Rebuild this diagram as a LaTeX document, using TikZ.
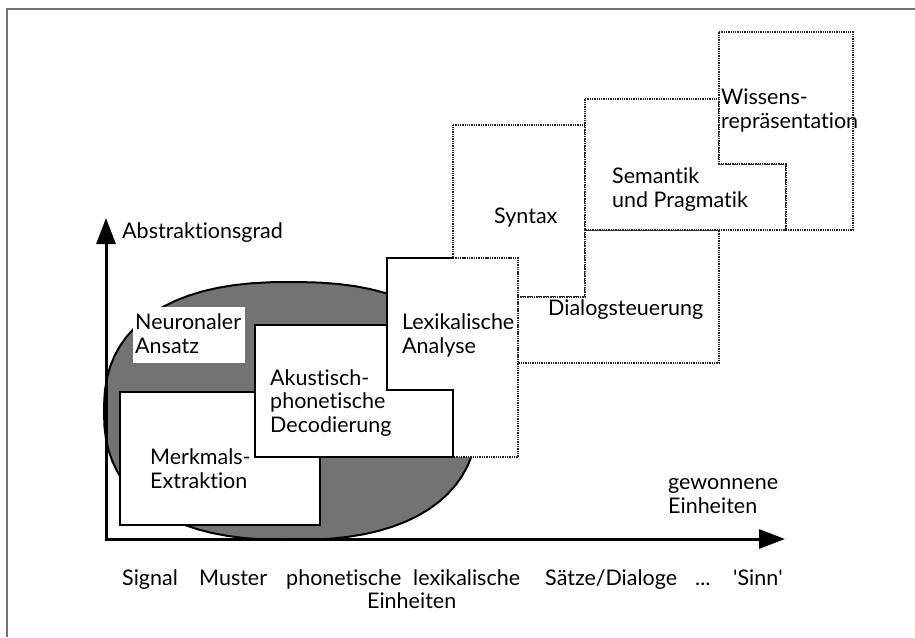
\documentclass[tikz,border=0pt]{standalone}
\usepackage{fontspec}
\setmainfont{Lato}[Ligatures=NoCommon]
\usetikzlibrary{arrows.meta}
\begin{document}
\begin{tikzpicture}[x=1pt,y=-1pt,
  solidbox/.style={fill=white, draw=black, line width=2.4pt, line join=miter},
  solidline/.style={draw=black, line width=2.4pt, line join=miter},
  dotbox/.style={fill=white, draw=black!85, line width=1.7pt, dash pattern=on 1.3pt off 1pt},
  dotline/.style={draw=black!85, line width=1.7pt, dash pattern=on 1.3pt off 1pt},
  lbl/.style={anchor=base west, inner sep=0pt, align=left, font=\fontsize{21.5}{23.5}\selectfont},
  axis/.style={line width=3pt, {Triangle[length=26pt,width=19pt]}-{Triangle[length=26pt,width=19pt]}}
]
\useasboundingbox (0,0) rectangle (915,637);
% frame
\draw[black!55, line width=1.5pt] (7,637) -- (7,9) -- (915,9);
% shaded region
\draw[fill=black!55, line width=2pt] plot[domain=1:361, samples=73, variable=\t]
  ({291+187*sign(cos(\t))*pow(abs(cos(\t)),0.833)}, {411+129*sign(sin(\t))*pow(abs(sin(\t)),0.833)}) -- cycle;
% Neuronaler Ansatz (white patch)
\fill[white] (133,307) rectangle (245,363);
% Merkmals-Extraktion
\draw[solidbox] (120,392) -- (255,392) -- (255,457) -- (320,457) -- (320,525) -- (120,525) -- cycle;
% Akustisch-phonetische Decodierung
\draw[solidbox] (255,325) -- (387,325) -- (387,390) -- (453,390) -- (453,457) -- (255,457) -- cycle;
% Lexikalische Analyse (fill)
\fill[white] (387,258) -- (518,258) -- (518,457) -- (453,457) -- (453,390) -- (387,390) -- cycle;
% Syntax
\draw[dotbox] (453,125) -- (585,125) -- (585,297) -- (518,297) -- (518,258) -- (453,258) -- cycle;
% Dialogsteuerung
\draw[dotbox] (518,297) -- (585,297) -- (585,230) -- (719,230) -- (719,363) -- (518,363) -- cycle;
% Semantik und Pragmatik
\draw[dotbox] (585,99) -- (719,99) -- (719,164) -- (786,164) -- (786,230) -- (585,230) -- cycle;
% Wissensrepraesentation
\draw[dotbox] (719,32) -- (853,32) -- (853,230) -- (786,230) -- (786,164) -- (719,164) -- cycle;
% Lexikalische outline
\draw[dotline] (453,258) -- (518,258) -- (518,457) -- (453,457);
\draw[solidline] (453,258) -- (387,258) -- (387,390) -- (453,390) -- (453,457);
% axes
\coordinate (O) at (106,539);
\coordinate (ytip) at (106,218);
\coordinate (xtip) at (785,539);
\draw[axis] (ytip) -- (O) -- (xtip);
% labels (anchor = baseline of last line)
\node[lbl] (abs) at (122,238) {Abstraktionsgrad};
\node[lbl] (neu) at (135,353) {Neuronaler\\Ansatz};
\node[lbl] (aku) at (270,432) {Akustisch-\\phonetische\\Decodierung};
\node[lbl] (mer) at (150,488) {Merkmals-\\Extraktion};
\node[lbl] (lex) at (402,353) {Lexikalische\\Analyse};
\node[lbl] (syn) at (494,223) {Syntax};
\node[lbl] (sem) at (612,207) {Semantik\\und Pragmatik};
\node[lbl] (wis) at (721,128) {Wissens-\\repräsentation};
\node[lbl] (dia) at (548,315) {Dialogsteuerung};
\node[lbl] (gew) at (668,513) {gewonnene\\Einheiten};
\node[lbl] (b1) at (122,585) {Signal};
\node[lbl] (b2) at (199,585) {Muster};
\node[lbl] (b3) at (286,585) {phonetische};
\node[lbl] (b4) at (413,585) {lexikalische};
\node[lbl] (b5) at (545,585) {Sätze/Dialoge};
\node[lbl] (b6) at (695,585) {...};
\node[lbl] (b7) at (733,585) {\textquotesingle Sinn\textquotesingle};
\node[lbl] (b8) at (367,608) {Einheiten};
\end{tikzpicture}
\end{document}
